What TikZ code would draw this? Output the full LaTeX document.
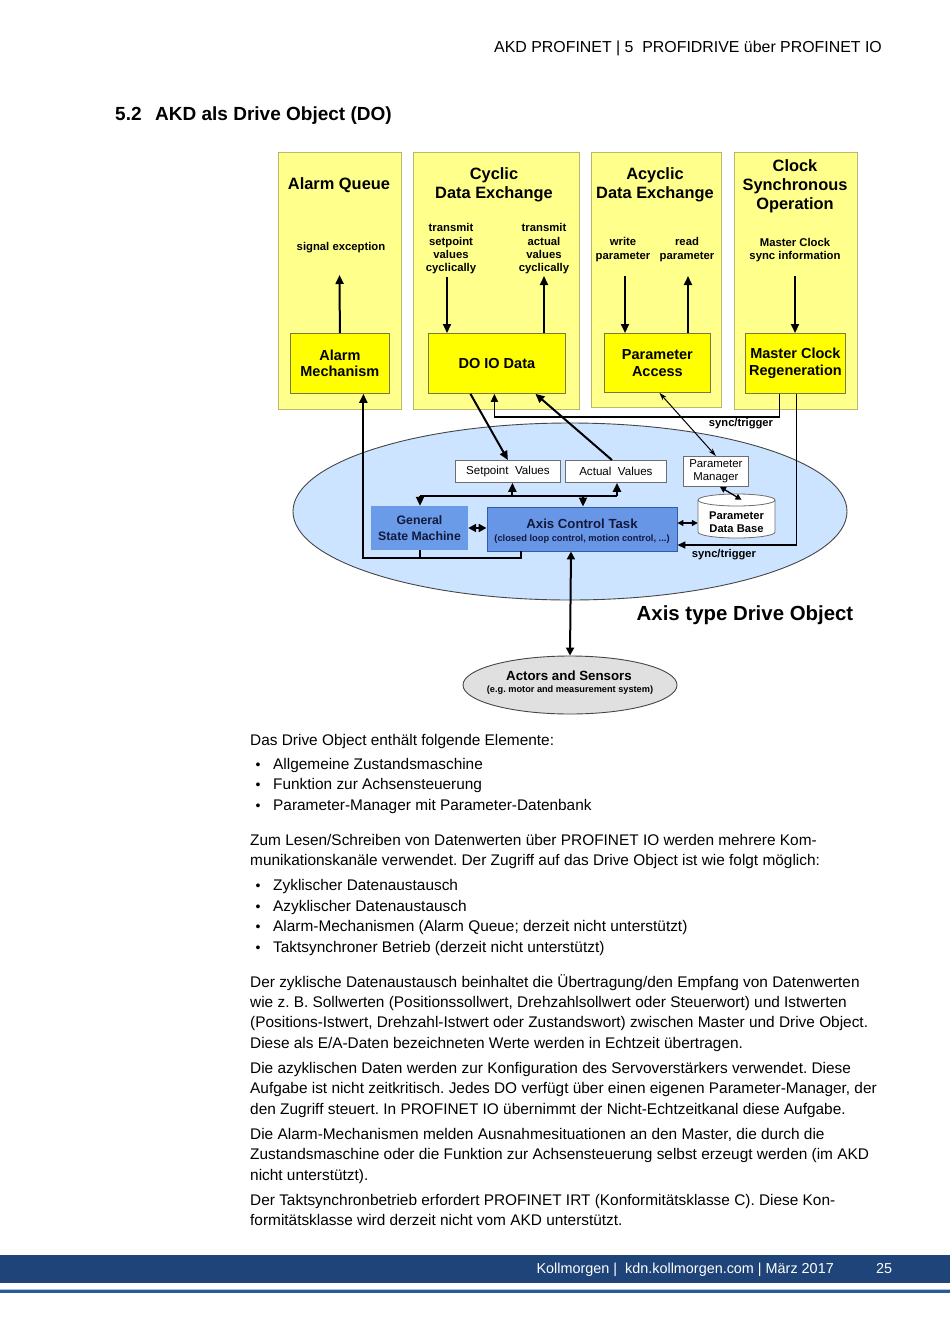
\documentclass[tikz,border=0pt]{standalone}
\usepackage{fontspec}
\setmainfont{Liberation Sans}
\usetikzlibrary{arrows.meta,shapes.geometric}
\definecolor{panelfill}{RGB}{255,255,140}
\definecolor{panelline}{RGB}{185,185,110}
\definecolor{ybright}{RGB}{255,255,0}
\definecolor{yline}{RGB}{120,120,70}
\definecolor{ellfill}{RGB}{204,228,255}
\definecolor{ellline}{RGB}{70,70,70}
\definecolor{gsmblue}{RGB}{106,155,232}
\definecolor{actblue}{RGB}{104,150,230}
\definecolor{actline}{RGB}{50,90,165}
\definecolor{navytext}{RGB}{20,25,60}
\definecolor{asfill}{RGB}{224,224,224}
\definecolor{footblue}{RGB}{31,68,121}
\definecolor{footline}{RGB}{40,90,150}
\definecolor{footlight}{RGB}{170,200,230}
\definecolor{boxline}{RGB}{110,110,110}
\newcommand\fs[2]{\fontsize{#1}{#2}\selectfont}
\frenchspacing
\begin{document}
\frenchspacing
\begin{tikzpicture}[x=1pt,y=-1pt,
  panel/.style={draw=panelline, fill=panelfill, line width=1pt, anchor=north west, inner sep=0pt},
  ybox/.style={draw=yline, fill=ybright, line width=0.8pt, anchor=north west, inner sep=0pt, align=center, font=\bfseries\fs{14.5}{16.5}},
  ptitle/.style={font=\bfseries\fs{16.4}{19}, align=center, inner sep=0pt},
  small/.style={font=\bfseries\fs{11.3}{13.3}, align=center, inner sep=0pt},
  arr/.style={-{Triangle[length=9pt,width=8pt]}, line width=2pt},
  darr/.style={{Triangle[length=8pt,width=8pt]}-{Triangle[length=8pt,width=8pt]}, line width=2pt},
  syncarr/.style={-{Triangle[length=8pt,width=7pt]}, line width=1.5pt},
  thinarr/.style={{Stealth[length=8pt,width=5pt]}-{Stealth[length=8pt,width=5pt]}, line width=1pt},
  wbox/.style={draw=boxline, fill=white, line width=0.8pt, anchor=north west, inner sep=0pt, align=center, font=\fs{11.6}{13}},
  body/.style={anchor=base west, inner sep=0pt, font=\fs{15.4}{18}},
  bul/.style={anchor=base, inner sep=0pt, font=\fs{14}{16}},
]
\useasboundingbox (0,0) rectangle (950,1344);
\fill[white] (0,0) rectangle (950,1344);

% header
\node[anchor=base east, inner sep=0pt, font=\fs{15.9}{18}] (hdr) at (882,52.5) {AKD PROFINET | 5\ \ PROFIDRIVE über PROFINET IO};
\node[anchor=base west, inner sep=0pt, font=\bfseries\fs{19}{22}] (secnum) at (115,120) {5.2};
\node[anchor=base west, inner sep=0pt, font=\bfseries\fs{19}{22}] (sectitle) at (155,120) {AKD als Drive Object (DO)};

% panels
\node[panel, minimum width=123pt, minimum height=257pt] (pAQ) at (278,152) {};
\node[panel, minimum width=166pt, minimum height=257pt] (pCY) at (413,152) {};
\node[panel, minimum width=130pt, minimum height=255pt] (pAC) at (591,152) {};
\node[panel, minimum width=123pt, minimum height=257pt] (pCL) at (734,152) {};

\node[ptitle] (tAQ) at (339,185) {Alarm Queue};
\node[ptitle] (tCY) at (494,185) {Cyclic\\Data Exchange};
\node[ptitle] (tAC) at (655,185) {Acyclic\\Data Exchange};
\node[ptitle] (tCL) at (795,186) {Clock\\Synchronous\\Operation};

\node[small] (sig) at (341,248) {signal exception};
\node[small] (tsv) at (451,249) {transmit\\setpoint\\values\\cyclically};
\node[small] (tav) at (544,249) {transmit\\actual\\values\\cyclically};
\node[small] (wp) at (623,249.5) {write\\parameter};
\node[small] (rp) at (687,249.5) {read\\parameter};
\node[small] (mcs) at (795,250) {Master Clock\\sync information};

% inner yellow boxes
\node[ybox, minimum width=99pt, minimum height=60pt] (am) at (290,333) {Alarm\\Mechanism};
\node[ybox, minimum width=137pt, minimum height=60pt] (dio) at (428,333) {DO IO Data};
\node[ybox, minimum width=106pt, minimum height=59pt] (pa) at (604,333) {Parameter\\Access};
\node[ybox, minimum width=100pt, minimum height=60pt] (mcr) at (745,333) {Master Clock\\Regeneration};

% panel arrows
\coordinate (aAQ) at (339.5,275);
\coordinate (aC1) at (447,277);
\coordinate (aC2) at (544,276);
\coordinate (aA1) at (625,276);
\coordinate (aA2) at (688,276);
\coordinate (aCL) at (795,276);
\draw[arr] (am.north) -- (aAQ);
\draw[arr] (aC1) -- (aC1 |- dio.north);
\draw[arr] (aC2 |- dio.north) -- (aC2);
\draw[arr] (aA1) -- (aA1 |- pa.north);
\draw[arr] (aA2 |- pa.north) -- (aA2);
\draw[arr] (aCL) -- (aCL |- mcr.north);

% big ellipse
\node[ellipse, draw=ellline, fill=ellfill, line width=0.9pt, minimum width=554pt, minimum height=177pt, inner sep=0pt] (ell) at (570,511.5) {};
\node[anchor=center, inner sep=0pt, font=\bfseries\fs{20.4}{23}] (atdo) at (745,615) {Axis type Drive Object};

% white boxes
\node[wbox, minimum width=105pt, minimum height=22pt] (sv) at (455,460) {Setpoint\ \ Values};
\node[wbox, minimum width=101pt, minimum height=22pt] (av) at (565,460) {Actual\ \ Values};
\node[wbox, minimum width=65pt, minimum height=30pt, font=\fs{11.4}{13}] (pm) at (683,456) {Parameter\\Manager};

% cylinder
\draw[draw=boxline, fill=white, line width=0.8pt] (698,500) -- (698,532) arc[start angle=180, end angle=360, x radius=38.5pt, y radius=6pt] -- (775,500) arc[start angle=0, end angle=180, x radius=38.5pt, y radius=6pt] -- cycle;
\draw[draw=boxline, line width=0.8pt] (698,500) arc[start angle=180, end angle=360, x radius=38.5pt, y radius=6pt];
\node[minimum width=77pt, minimum height=44pt, inner sep=0pt] (pdb) at (736.5,516) {};
\node[inner sep=0pt, align=center, font=\bfseries\fs{11.2}{13}] (pdbt) at (736.5,522) {Parameter\\Data Base};

% blue boxes
\node[fill=gsmblue, minimum width=97pt, minimum height=44pt, inner sep=0pt, align=center, text=navytext, font=\bfseries\fs{12.3}{16}] (gsm) at (419.5,528) {General\\State Machine};
\node[fill=actblue, draw=actline, line width=0.9pt, minimum width=190pt, minimum height=44pt, inner sep=0pt] (act) at (582,529) {};
\node[inner sep=0pt, text=navytext, font=\bfseries\fs{13.2}{15}] (actt) at (582,523.5) {Axis Control Task};
\node[inner sep=0pt, text=navytext, font=\bfseries\fs{9.3}{11}] (acts) at (582,539) {(closed loop control, motion control, ...)};

% connections DO IO <-> values
\draw[arr] ([xshift=-26.5pt]dio.south) -- (sv.north);
\draw[arr] ([xshift=-4pt]av.north) -- ([xshift=38.5pt]dio.south);

% sync/trigger 1
\draw[syncarr] ([xshift=-16pt]mcr.south) -- ++(0,23) -| ([xshift=-2.5pt]dio.south);
\node[inner sep=0pt, font=\bfseries\fs{11.2}{13}] (st1) at (741,424) {sync/trigger};

% parameter manager links
\draw[thinarr] (pm.north) -- ([xshift=2pt]pa.south);
\draw[{Triangle[length=6pt,width=6pt]}-{Triangle[length=6pt,width=6pt]}, line width=1.3pt] ([xshift=4pt]pm.south) -- ([xshift=5pt,yshift=-6pt]pdb.north);
\draw[{Triangle[length=6pt,width=6pt]}-{Triangle[length=6pt,width=6pt]}, line width=1.3pt] ([yshift=6pt]act.east) -- ([yshift=-7pt]pdb.west);

% sync/trigger 2
\draw[syncarr] ([xshift=1pt]mcr.south) |- ([yshift=-16pt]act.east);
\node[inner sep=0pt, font=\bfseries\fs{11.2}{13}] (st2) at (724,555) {sync/trigger};

% bus
\coordinate (busL) at (420,496);
\coordinate (busR) at (617,496);
\draw[line width=2pt] (busL) -- (busR);
\draw[arr] ([xshift=4.5pt]sv.south |- busL) -- ([xshift=4.5pt]sv.south);
\draw[arr] (busR) -- (busR |- av.south);
\draw[arr] (busL) -- (busL |- gsm.north);
\draw[arr] ([xshift=1pt]act.north |- busL) -- ([xshift=1pt]act.north);

% GSM <-> ACT
\draw[darr] (gsm.east) -- (gsm.east -| act.west);

% bottom to alarm mechanism
\draw[line width=2pt] (gsm.south) -- ++(0,8);
\draw[arr] ([xshift=-61pt]act.south) -- ++(0,7) -| ([xshift=23.5pt]am.south);

% actors and sensors
\node[ellipse, draw=ellline, fill=asfill, line width=0.9pt, minimum width=214pt, minimum height=58pt, inner sep=0pt] (as) at (570,685) {};
\node[inner sep=0pt, font=\bfseries\fs{13.3}{15}] (ast) at (569,676) {Actors and Sensors};
\node[inner sep=0pt, font=\bfseries\fs{9.2}{11}] (ass) at (570,690) {(e.g. motor and measurement system)};
\draw[darr] ([xshift=-11pt]act.south) -- (as.north);

% body text
\node[body] (l1) at (250,745) {Das Drive Object enthält folgende Elemente:};
\node[bul] (b1) at (258,769) {•};
\node[body] (l2) at (273,769) {Allgemeine Zustandsmaschine};
\node[bul] (b2) at (258,789) {•};
\node[body] (l3) at (273,789) {Funktion zur Achsensteuerung};
\node[bul] (b3) at (258,810) {•};
\node[body] (l4) at (273,810) {Parameter-Manager mit Parameter-Datenbank};
\node[body] (l5) at (250,845) {Zum Lesen/Schreiben von Datenwerten über PROFINET IO werden mehrere Kom-};
\node[body] (l6) at (250,865) {munikationskanäle verwendet. Der Zugriff auf das Drive Object ist wie folgt möglich:};
\node[bul] (b4) at (258,890) {•};
\node[body] (l7) at (273,890) {Zyklischer Datenaustausch};
\node[bul] (b5) at (258,911) {•};
\node[body] (l8) at (273,911) {Azyklischer Datenaustausch};
\node[bul] (b6) at (258,931) {•};
\node[body] (l9) at (273,931) {Alarm-Mechanismen (Alarm Queue; derzeit nicht unterstützt)};
\node[bul] (b7) at (258,952) {•};
\node[body] (l10) at (273,952) {Taktsynchroner Betrieb (derzeit nicht unterstützt)};
\node[body] (l11) at (250,987) {Der zyklische Datenaustausch beinhaltet die Übertragung/den Empfang von Datenwerten};
\node[body] (l12) at (250,1007) {wie z. B. Sollwerten (Positionssollwert, Drehzahlsollwert oder Steuerwort) und Istwerten};
\node[body] (l13) at (250,1027) {(Positions-Istwert, Drehzahl-Istwert oder Zustandswort) zwischen Master und Drive Object.};
\node[body] (l14) at (250,1048) {Diese als E/A-Daten bezeichneten Werte werden in Echtzeit übertragen.};
\node[body] (l15) at (250,1073) {Die azyklischen Daten werden zur Konfiguration des Servoverstärkers verwendet. Diese};
\node[body] (l16) at (250,1093) {Aufgabe ist nicht zeitkritisch. Jedes DO verfügt über einen eigenen Parameter-Manager, der};
\node[body] (l17) at (250,1114) {den Zugriff steuert. In PROFINET IO übernimmt der Nicht-Echtzeitkanal diese Aufgabe.};
\node[body] (l18) at (250,1139) {Die Alarm-Mechanismen melden Ausnahmesituationen an den Master, die durch die};
\node[body] (l19) at (250,1159) {Zustandsmaschine oder die Funktion zur Achsensteuerung selbst erzeugt werden (im AKD};
\node[body] (l20) at (250,1180) {nicht unterstützt).};
\node[body] (l21) at (250,1205) {Der Taktsynchronbetrieb erfordert PROFINET IRT (Konformitätsklasse C). Diese Kon-};
\node[body] (l22) at (250,1225) {formitätsklasse wird derzeit nicht vom AKD unterstützt.};

% footer
\fill[footblue] (0,1255) rectangle (950,1283);
\fill[footlight] (0,1288.5) rectangle (950,1290);
\fill[footline] (0,1290) rectangle (950,1292.5);
\node[anchor=base east, inner sep=0pt, text=white, font=\fs{14.4}{16}] (ft) at (834,1273.5) {Kollmorgen |\ \ kdn.kollmorgen.com | März 2017};
\node[anchor=base, inner sep=0pt, text=white, font=\fs{14.4}{16}] (pg) at (884,1273.5) {25};
\end{tikzpicture}
\end{document}
